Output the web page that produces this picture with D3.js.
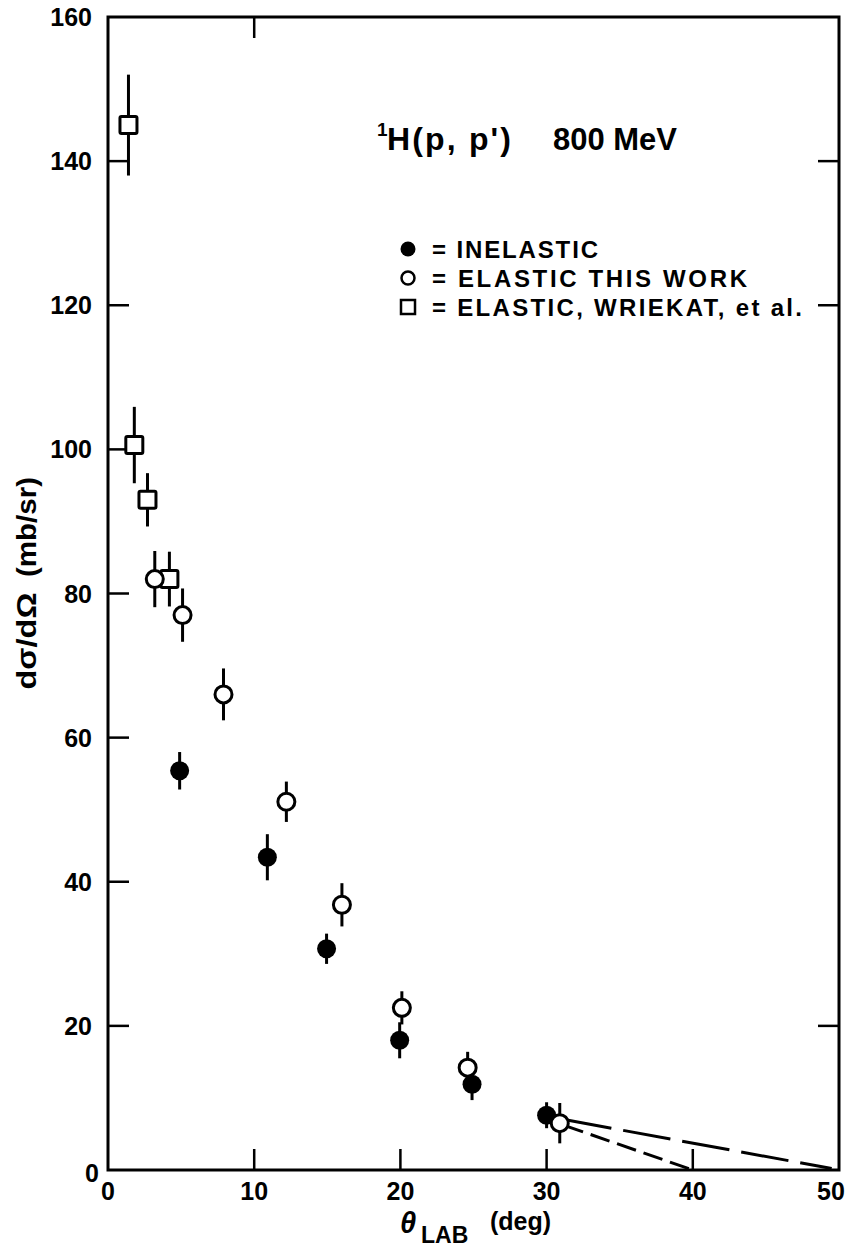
<!DOCTYPE html>
<html>
<head>
<meta charset="utf-8">
<script src="https://cdn.jsdelivr.net/npm/d3@7"></script>
<style>
  body { margin: 0; background: #fff; }
  text { font-family: "Liberation Sans", Arial, sans-serif; fill: #000; }
</style>
</head>
<body>
<script>
// data: theta (deg), d sigma / d omega (mb/sr), error
var wriekatTheta = [1.4, 1.8, 2.7, 4.2];
var wriekatSigma = [145, 100.6, 93, 82];
var wriekatErr = [7, 5.3, 3.7, 3.8];

var elasticTheta = [3.2, 5.1, 7.9, 12.2, 16.0, 20.1, 24.6, 30.9];
var elasticSigma = [82, 77, 66, 51.1, 36.8, 22.5, 14.2, 6.5];
var elasticErr = [3.9, 3.7, 3.6, 2.8, 3.0, 2.3, 2.2, 2.8];

var inelasticTheta = [4.9, 10.9, 14.95, 19.95, 24.9, 30.0];
var inelasticSigma = [55.4, 43.4, 30.7, 18.0, 11.9, 7.6];
var inelasticErr = [2.6, 3.2, 2.1, 2.5, 2.2, 1.8];

// dashed extrapolations beyond the last points
var longDash = [[31.2, 7.0], [49.5, 0.2]];
var shortDash = [[31.2, 6.2], [40, 0]];

var xTicks = [0, 10, 20, 30, 40, 50];
var yTicks = [0, 20, 40, 60, 80, 100, 120, 140, 160];
var topTicks = [10];
var rightTicks = [140, 120, 20];

var legendItems = ["= INELASTIC", "= ELASTIC THIS WORK", "= ELASTIC, WRIEKAT, et al."];

var W = 854, H = 1250;
var svg = d3.select("body").append("svg")
  .attr("width", W).attr("height", H);

var x = d3.scaleLinear().domain([0, 50]).range([108, 839]);
var y = d3.scaleLinear().domain([0, 160]).range([1170, 17]);

// frame
svg.append("rect")
  .attr("x", x(0)).attr("y", y(160))
  .attr("width", x(50) - x(0)).attr("height", y(0) - y(160))
  .attr("fill", "none").attr("stroke", "#000").attr("stroke-width", 3);

// inward ticks
var tickLen = 21;
svg.selectAll(".ytick").data(yTicks.slice(1, -1)).enter().append("line")
  .attr("x1", x(0)).attr("x2", x(0) + tickLen)
  .attr("y1", d => y(d)).attr("y2", d => y(d))
  .attr("stroke", "#000").attr("stroke-width", 2.5);
svg.selectAll(".xtick").data(xTicks.slice(1, -1)).enter().append("line")
  .attr("x1", d => x(d)).attr("x2", d => x(d))
  .attr("y1", y(0)).attr("y2", y(0) - tickLen)
  .attr("stroke", "#000").attr("stroke-width", 2.5);
svg.selectAll(".ttick").data(topTicks).enter().append("line")
  .attr("x1", d => x(d)).attr("x2", d => x(d))
  .attr("y1", y(160)).attr("y2", y(160) + tickLen)
  .attr("stroke", "#000").attr("stroke-width", 2.5);
svg.selectAll(".rtick").data(rightTicks).enter().append("line")
  .attr("x1", x(50)).attr("x2", x(50) - tickLen)
  .attr("y1", d => y(d)).attr("y2", d => y(d))
  .attr("stroke", "#000").attr("stroke-width", 2.5);

// tick labels
svg.selectAll(".ylab").data(yTicks).enter().append("text")
  .attr("x", d => d === 0 ? 99 : 92).attr("y", d => y(d) + (d === 0 ? 3 : 0))
  .attr("text-anchor", "end").attr("dominant-baseline", "central")
  .attr("font-size", 25).attr("font-weight", "bold")
  .text(d => d);
svg.selectAll(".xlab").data(xTicks).enter().append("text")
  .attr("x", d => d === 50 ? x(d) - 8 : x(d)).attr("y", 1191)
  .attr("text-anchor", "middle").attr("dominant-baseline", "central")
  .attr("font-size", 25).attr("font-weight", "bold")
  .text(d => d);

// axis titles
svg.append("text").attr("x", 400).attr("y", 1233)
  .attr("font-size", 29).attr("font-style", "italic").attr("font-weight", "bold").text("θ");
svg.append("text").attr("x", 421).attr("y", 1243)
  .attr("font-size", 23).attr("font-weight", "bold").text("LAB");
svg.append("text").attr("x", 490).attr("y", 1230)
  .attr("font-size", 25).attr("font-weight", "bold").text("(deg)");

svg.append("text")
  .attr("transform", "translate(36,641) rotate(-90)")
  .attr("text-anchor", "middle")
  .attr("font-size", 28).attr("font-weight", "bold")
  .attr("textLength", 97).attr("lengthAdjust", "spacingAndGlyphs")
  .text("dσ/dΩ");
svg.append("text")
  .attr("transform", "translate(36,527) rotate(-90)")
  .attr("text-anchor", "middle")
  .attr("font-size", 28).attr("font-weight", "bold")
  .attr("textLength", 100).attr("lengthAdjust", "spacingAndGlyphs")
  .text("(mb/sr)");

// title
svg.append("text").attr("x", 377).attr("y", 136).attr("font-size", 19).attr("font-weight", "bold").text("1");
svg.append("text").attr("x", 387).attr("y", 150).attr("font-size", 32).attr("font-weight", "bold")
  .attr("textLength", 124).attr("lengthAdjust", "spacing")
  .text("H(p, p')");
svg.append("text").attr("x", 553).attr("y", 150).attr("font-size", 32).attr("font-weight", "bold")
  .attr("textLength", 124).attr("lengthAdjust", "spacingAndGlyphs")
  .text("800 MeV");

// dashed curves
var line = d3.line().x(d => x(d[0])).y(d => y(d[1]));
svg.append("path").attr("d", line(longDash))
  .attr("fill", "none").attr("stroke", "#000").attr("stroke-width", 3)
  .attr("stroke-dasharray", "48,12");
svg.append("path").attr("d", line(shortDash))
  .attr("fill", "none").attr("stroke", "#000").attr("stroke-width", 3)
  .attr("stroke-dasharray", "20,8");

// error bars + markers
function errBars(th, sg, er) {
  svg.append("g").selectAll("line").data(th).enter().append("line")
    .attr("x1", d => x(d)).attr("x2", d => x(d))
    .attr("y1", (d, i) => y(sg[i] + er[i])).attr("y2", (d, i) => y(sg[i] - er[i]))
    .attr("stroke", "#000").attr("stroke-width", 3);
}
errBars(wriekatTheta, wriekatSigma, wriekatErr);
errBars(elasticTheta, elasticSigma, elasticErr);
errBars(inelasticTheta, inelasticSigma, inelasticErr);

var sq = 17;
svg.append("g").selectAll("rect").data(wriekatTheta).enter().append("rect")
  .attr("x", d => x(d) - sq / 2).attr("y", (d, i) => y(wriekatSigma[i]) - sq / 2)
  .attr("width", sq).attr("height", sq).attr("rx", 1.5)
  .attr("fill", "#fff").attr("stroke", "#000").attr("stroke-width", 3);

svg.append("g").selectAll("circle").data(inelasticTheta).enter().append("circle")
  .attr("cx", d => x(d)).attr("cy", (d, i) => y(inelasticSigma[i]))
  .attr("r", 9.5).attr("fill", "#000");

svg.append("g").selectAll("circle").data(elasticTheta).enter().append("circle")
  .attr("cx", d => x(d)).attr("cy", (d, i) => y(elasticSigma[i]))
  .attr("r", 8.5).attr("fill", "#fff").attr("stroke", "#000").attr("stroke-width", 3);

// legend
var legY = [249, 278, 307];
var legW = [166, 315, 370];
var lg = svg.append("g");
lg.append("circle").attr("cx", 408).attr("cy", legY[0]).attr("r", 7.5).attr("fill", "#000");
lg.append("circle").attr("cx", 408).attr("cy", legY[1]).attr("r", 6.5)
  .attr("fill", "#fff").attr("stroke", "#000").attr("stroke-width", 2.5);
lg.append("rect").attr("x", 401).attr("y", legY[2] - 7).attr("width", 14).attr("height", 14)
  .attr("fill", "#fff").attr("stroke", "#000").attr("stroke-width", 2.5);
lg.selectAll("text").data(legendItems).enter().append("text")
  .attr("x", 432).attr("y", (d, i) => legY[i])
  .attr("dominant-baseline", "central")
  .attr("font-size", 24).attr("font-weight", "bold")
  .attr("textLength", (d, i) => legW[i]).attr("lengthAdjust", "spacing")
  .text(d => d);
</script>
</body>
</html>
